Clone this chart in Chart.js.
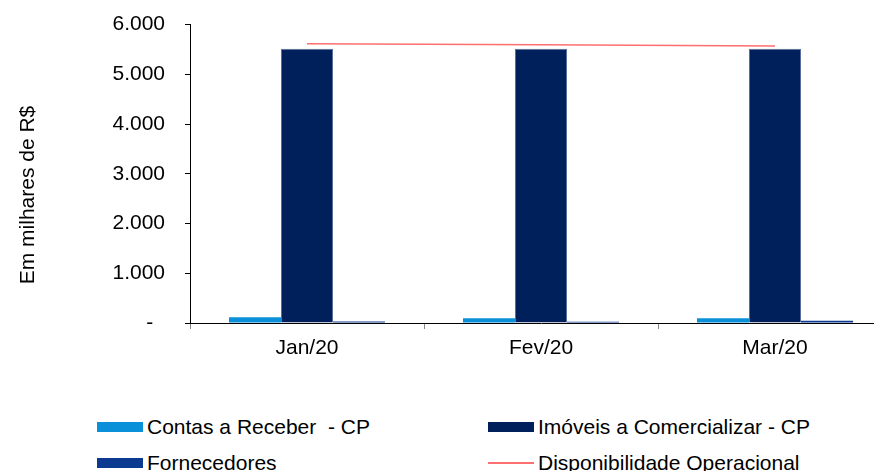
<!DOCTYPE html>
<html>
<head>
<meta charset="utf-8">
<script src="https://cdn.jsdelivr.net/npm/chart.js@4/dist/chart.umd.min.js"></script>
<style>
  html, body { margin: 0; padding: 0; background: #fff; overflow: hidden; width: 874px; height: 471px; }
  #wrap { position: relative; width: 874px; height: 471px; overflow: hidden; }
  #c { position: absolute; left: 0; top: -8px; }
  .leg { position: absolute; font-family: "Liberation Sans", Arial, sans-serif; font-size: 21px; color: #000; line-height: 24px; white-space: pre; }
  .sw { position: absolute; width: 46px; height: 10px; }
  .ln { position: absolute; width: 46px; height: 1.5px; }
</style>
</head>
<body>
<div id="wrap">
  <canvas id="c" width="910" height="400"></canvas>
  <div id="legend"></div>
</div>
<script>
const categories = ['Jan/20', 'Fev/20', 'Mar/20'];
const contasReceber = [115, 95, 95];
const imoveis = [5515, 5515, 5515];
const fornecedores = [30, 25, 45];
const disponibilidade = [5615, 5595, 5568];
const yTicks = [0, 1000, 2000, 3000, 4000, 5000, 6000];
const yTitle = 'Em milhares de R$';
const seriesNames = ['Contas a Receber  - CP', 'Imóveis a Comercializar - CP', 'Fornecedores', 'Disponibilidade Operacional'];
const seriesColors = ['#0a90d8', '#00205c', '#0b3a90', '#ff6f6f'];

const FONT = '"Liberation Sans", Arial, sans-serif';

const yTitlePlugin = {
  id: 'yTitle',
  afterDraw(chart) {
    const ctx = chart.ctx;
    ctx.save();
    ctx.translate(28, 203);
    ctx.rotate(-Math.PI / 2);
    ctx.font = '21px ' + FONT;
    ctx.fillStyle = '#000';
    ctx.textAlign = 'center';
    ctx.textBaseline = 'middle';
    ctx.fillText(yTitle, 0, 0);
    ctx.restore();
  }
};

const chart = new Chart(document.getElementById('c'), {
  type: 'bar',
  data: {
    labels: categories,
    datasets: [
      { label: seriesNames[0], data: contasReceber, backgroundColor: seriesColors[0], borderWidth: 0 },
      { label: seriesNames[1], data: imoveis, backgroundColor: seriesColors[1], borderColor: '#5b6f9c', borderWidth: 1 },
      { label: seriesNames[2], data: fornecedores, backgroundColor: seriesColors[2], borderWidth: 0 },
      { type: 'line', label: seriesNames[3], data: disponibilidade, borderColor: seriesColors[3], borderWidth: 1.5, pointRadius: 0, tension: 0, fill: false, order: -1 }
    ]
  },
  options: {
    responsive: false,
    animation: false,
    devicePixelRatio: 1,
    categoryPercentage: 0.667,
    barPercentage: 1,
    layout: { padding: { left: 0, right: 18, top: 16, bottom: 29 } },
    plugins: { legend: { display: false }, tooltip: { enabled: false }, title: { display: false } },
    scales: {
      x: {
        afterFit(s) { s.height = 40; },
        grid: { display: true, offset: true, drawOnChartArea: false, drawTicks: true, tickLength: 6, color: '#888' },
        border: { display: true, color: '#000', width: 1 },
        ticks: { font: { family: FONT, size: 21 }, color: '#000', padding: 7, maxRotation: 0 }
      },
      y: {
        min: 0, max: 6000,
        afterFit(s) { s.width = 190; },
        afterBuildTicks(s) { s.ticks = yTicks.map(v => ({ value: v })); },
        grid: { display: true, drawOnChartArea: false, drawTicks: true, tickLength: 5, color: '#000' },
        border: { display: true, color: '#000', width: 1 },
        ticks: {
          font: { family: FONT, size: 21 }, color: '#000', padding: 20,
          callback(v) { return v === 0 ? '-  ' : (v / 1000) + '.000'; }
        }
      }
    }
  },
  plugins: [yTitlePlugin]
});

// HTML legend built from the chart's datasets
const legendPos = [
  { sx: 97, tx: 147, cy: 427 },
  { sx: 488, tx: 538, cy: 427 },
  { sx: 97, tx: 147, cy: 463 },
  { sx: 488, tx: 538, cy: 463 }
];
const leg = document.getElementById('legend');
chart.data.datasets.forEach((ds, i) => {
  const p = legendPos[i];
  const sw = document.createElement('div');
  if (ds.type === 'line') {
    sw.className = 'ln';
    sw.style.left = p.sx + 'px';
    sw.style.top = (p.cy - 1) + 'px';
    sw.style.background = ds.borderColor;
  } else {
    sw.className = 'sw';
    sw.style.left = p.sx + 'px';
    sw.style.top = (p.cy - 5) + 'px';
    sw.style.background = ds.backgroundColor;
  }
  leg.appendChild(sw);
  const t = document.createElement('div');
  t.className = 'leg';
  t.textContent = ds.label;
  t.style.left = p.tx + 'px';
  t.style.top = (p.cy - 12) + 'px';
  leg.appendChild(t);
});
</script>
</body>
</html>
